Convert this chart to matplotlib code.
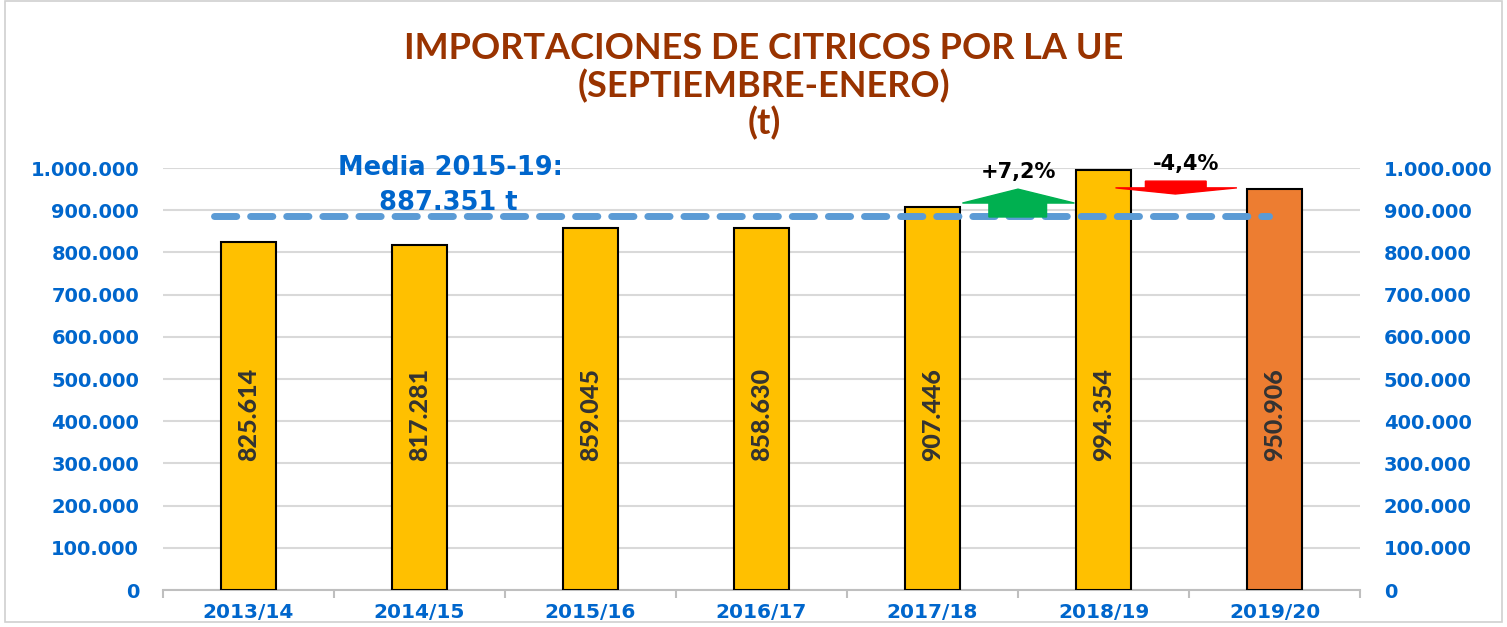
import numpy as np
import matplotlib.pyplot as plt
from matplotlib.patches import Polygon, Rectangle
from matplotlib.ticker import FuncFormatter

# data
campaigns = ["2013/14", "2014/15", "2015/16", "2016/17", "2017/18", "2018/19", "2019/20"]
imports_t = [825614, 817281, 859045, 858630, 907446, 994354, 950906]
bar_colors = ["#FFC000"] * 6 + ["#ED7D31"]
media = 887351
changes = ["+7,2%", "-4,4%"]

blue = "#0066CC"
title_col = "#993300"


def fmt_es(v, pos=None):
    v = int(round(v))
    if v == 0:
        return "0"
    return "{:,}".format(v).replace(",", ".")


fig = plt.figure(figsize=(15.07, 6.27), dpi=100)
fig.patch.set_facecolor("white")
fig.add_artist(Rectangle((0.003, 0.008), 0.994, 0.99, transform=fig.transFigure,
                         fill=False, edgecolor="#D0D0D0", lw=1.2))

ax = fig.add_axes([0.108, 0.059, 0.7945, 0.673])
x = np.arange(len(campaigns))
ax.bar(x, imports_t, width=0.32, color=bar_colors, edgecolor="black", linewidth=1.5, zorder=3)

ax.set_xlim(-0.5, len(campaigns) - 0.5)
ax.set_ylim(0, 1000000)
ax.set_yticks(np.arange(0, 1000001, 100000))
ax.yaxis.set_major_formatter(FuncFormatter(fmt_es))
ax.grid(axis="y", color="#D9D9D9", lw=1.5, zorder=0)
ax.set_axisbelow(True)
for s in ["top", "left", "right"]:
    ax.spines[s].set_visible(False)
ax.spines["bottom"].set_color("#BFBFBF")
ax.spines["bottom"].set_linewidth(1.5)

ax.set_xticks(x)
ax.set_xticklabels(campaigns)
ax.tick_params(axis="x", length=0, pad=9, labelsize=14.5, labelcolor=blue)
ax.set_xticks(np.arange(-0.5, len(campaigns)), minor=True)
ax.tick_params(axis="x", which="minor", length=6, color="#BFBFBF", width=1.5)
ax.tick_params(axis="y", length=0, pad=17, labelsize=14, labelcolor=blue)
for lab in ax.get_xticklabels() + ax.get_yticklabels():
    lab.set_fontweight("bold")

ax2 = ax.twinx()
ax2.set_ylim(ax.get_ylim())
ax2.set_yticks(ax.get_yticks())
ax2.yaxis.set_major_formatter(FuncFormatter(fmt_es))
ax2.tick_params(axis="y", length=0, pad=17, labelsize=14, labelcolor=blue)
for lab in ax2.get_yticklabels():
    lab.set_fontweight("bold")
for s in ax2.spines.values():
    s.set_visible(False)

# value labels inside bars
for xi, v in zip(x, imports_t):
    ax.text(xi, 415000, fmt_es(v), rotation=90, ha="center", va="center",
            fontsize=18, fontweight="black", color="#333333", family="Lato",
            zorder=4)

# average line
ax.plot([-0.2, 5.97], [media, media], color="#5B9BD5", lw=5,
        dashes=(3.2, 2.0), dash_capstyle="round", zorder=5)
ax.text(1.18, 1000000, "Media 2015-19:", ha="center", va="center",
        fontsize=18.5, fontweight="bold", color=blue, zorder=6)
ax.text(1.17, 918000, fmt_es(media) + " t", ha="center", va="center",
        fontsize=18.5, fontweight="bold", color=blue, zorder=6)

# change arrows
up = Polygon([(4.33, 884000), (4.33, 917000), (4.175, 917000), (4.5, 950000),
              (4.83, 917000), (4.667, 917000), (4.667, 884000)],
             closed=True, color="#00B050", zorder=6, clip_on=False)
ax.add_patch(up)
ax.text(4.5, 991000, changes[0], ha="center", va="center", fontsize=15,
        fontweight="bold", color="black", clip_on=False)

down = Polygon([(5.245, 969000), (5.245, 953000), (5.07, 953000), (5.42, 938500),
                (5.78, 953000), (5.60, 953000), (5.60, 969000)],
               closed=True, color="#FF0000", zorder=6, clip_on=False)
ax.add_patch(down)
ax.text(5.485, 1010000, changes[1], ha="center", va="center", fontsize=15,
        fontweight="bold", color="black", clip_on=False)

# title
for yy, line in zip([0.922, 0.862, 0.803], ["IMPORTACIONES DE CITRICOS POR LA UE",
                                            "(SEPTIEMBRE-ENERO)", "(t)"]):
    fig.text(0.507, yy, line, ha="center", va="center",
             fontsize=26, fontweight="bold", color=title_col, family="Lato")

fig.savefig("out.png", dpi=100)
